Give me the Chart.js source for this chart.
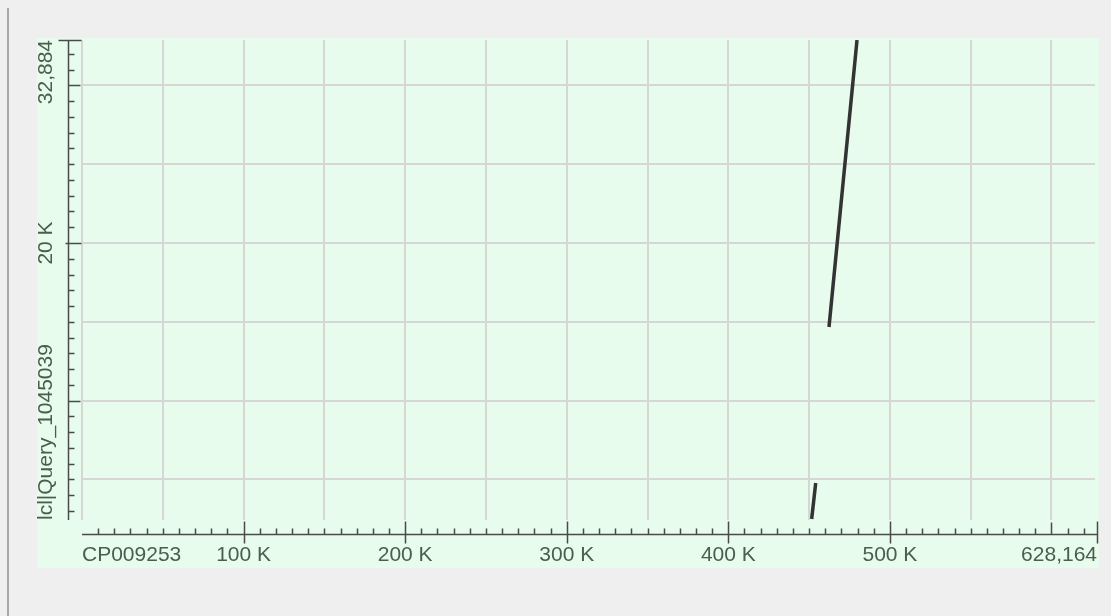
<!DOCTYPE html>
<html>
<head>
<meta charset="utf-8">
<script src="https://cdn.jsdelivr.net/npm/chart.js@4"></script>
<style>
    html, body { margin: 0; padding: 0; background: #efefef; }
    #wrap { width: 1111px; height: 616px; position: relative; }
</style>
</head>
<body>
<div id="wrap"><canvas id="dot-plot"></canvas></div>
<script>
// subject (x) axis: CP009253, 1..628,164
const subjectLength = 628164;
const xLabelValues = [0, 100000, 200000, 300000, 400000, 500000, 628164];
const xLabels = ['CP009253', '100 K', '200 K', '300 K', '400 K', '500 K', '628,164'];

// query (y) axis: visible part of lcl|Query_1045039
const queryMin = 2420;
const queryLength = 32884;
const yLabelValues = [2420, 20000, 32884];
const yLabels = ['lcl|Query_1045039', '20 K', '32,884'];

// alignment segments (subject start/end, query start/end)
const hitSubjectStart = [451580, 462300];
const hitSubjectEnd = [454080, 479640];
const hitQueryStart = [2480, 14670];
const hitQueryEnd = [4770, 32884];

const textColor = '#4b5d4c';
const axisColor = '#4a4a4a';
const gridColor = '#d6d6d6';
const labelFont = '21px "Liberation Sans", Arial, sans-serif';

const plotDecor = {
    id: 'plotDecor',
    beforeDraw(chart) {
        const ctx = chart.ctx;
        ctx.save();
        ctx.fillStyle = '#efefef';
        ctx.fillRect(0, 0, chart.width, chart.height);
        // left frame line
        ctx.strokeStyle = '#a8a8a8';
        ctx.lineWidth = 2;
        ctx.beginPath();
        ctx.moveTo(8, 8);
        ctx.lineTo(8, chart.height);
        ctx.stroke();
        // green panel
        ctx.fillStyle = '#e8fcee';
        ctx.fillRect(37, 38, 1062, 530);
        ctx.restore();
    },
    beforeDatasetsDraw(chart) {
        const ctx = chart.ctx;
        const x = chart.scales.x, y = chart.scales.y;
        const area = chart.chartArea;
        ctx.save();
        ctx.strokeStyle = gridColor;
        ctx.lineWidth = 2;
        for (let v = 0; v <= 600000; v += 50000) {
            const px = Math.round(x.getPixelForValue(v));
            ctx.beginPath();
            ctx.moveTo(px, area.top);
            ctx.lineTo(px, area.bottom);
            ctx.stroke();
        }
        for (let v = 5000; v <= 30000; v += 5000) {
            const py = Math.round(y.getPixelForValue(v));
            ctx.beginPath();
            ctx.moveTo(area.left, py);
            ctx.lineTo(area.right - 2, py);
            ctx.stroke();
        }
        ctx.restore();
    },
    afterDatasetsDraw(chart) {
        const ctx = chart.ctx;
        const x = chart.scales.x, y = chart.scales.y;
        const area = chart.chartArea;
        const axisY = 534.5;
        const axisX = 68.5;
        ctx.save();
        ctx.strokeStyle = axisColor;
        ctx.lineWidth = 1.5;

        // x axis
        ctx.beginPath();
        ctx.moveTo(area.left, axisY);
        ctx.lineTo(area.right, axisY);
        for (let v = 10000; v < subjectLength; v += 10000) {
            const px = Math.round(x.getPixelForValue(v)) + 0.5;
            const top = v % 100000 === 0 ? axisY - 12 : axisY - 6;
            ctx.moveTo(px, top);
            ctx.lineTo(px, axisY);
        }
        xLabelValues.forEach((v, i) => {
            if (i === 0) return;
            const px = Math.round(x.getPixelForValue(v)) + 0.5;
            ctx.moveTo(px, axisY - 13);
            ctx.lineTo(px, axisY + 9);
        });
        ctx.stroke();

        // y axis
        ctx.beginPath();
        ctx.moveTo(axisX, area.top);
        ctx.lineTo(axisX, area.bottom);
        for (let v = 3000; v < queryLength; v += 1000) {
            const py = Math.round(y.getPixelForValue(v)) + 0.5;
            const len = v % 10000 === 0 ? 12 : 6;
            ctx.moveTo(axisX, py);
            ctx.lineTo(axisX + len, py);
        }
        yLabelValues.forEach((v, i) => {
            if (i === 0) return;
            const py = Math.round(y.getPixelForValue(v)) + 0.5;
            const left = i === yLabelValues.length - 1 ? 10 : 3;
            ctx.moveTo(axisX - left, py);
            ctx.lineTo(axisX + 13, py);
        });
        ctx.stroke();

        // labels
        ctx.fillStyle = textColor;
        ctx.font = labelFont;
        ctx.textBaseline = 'middle';
        xLabelValues.forEach((v, i) => {
            const px = x.getPixelForValue(v);
            ctx.textAlign = i === 0 ? 'left' : (i === xLabelValues.length - 1 ? 'right' : 'center');
            ctx.fillText(xLabels[i], px, 555);
        });
        yLabelValues.forEach((v, i) => {
            const py = y.getPixelForValue(v);
            ctx.save();
            ctx.translate(46, py);
            ctx.rotate(-Math.PI / 2);
            ctx.textAlign = i === 0 ? 'left' : (i === yLabelValues.length - 1 ? 'right' : 'center');
            ctx.fillText(yLabels[i], 0, 0);
            ctx.restore();
        });
        ctx.restore();
    }
};

const segments = hitSubjectStart.map((s, i) => ({
    data: [
        { x: s, y: hitQueryStart[i] },
        { x: hitSubjectEnd[i], y: hitQueryEnd[i] }
    ],
    showLine: true,
    borderColor: '#333333',
    borderWidth: 3.5,
    pointRadius: 0,
    borderCapStyle: 'butt'
}));

new Chart(document.getElementById('dot-plot').getContext('2d'), {
    type: 'scatter',
    data: { datasets: segments },
    options: {
        responsive: true,
        maintainAspectRatio: false,
        animation: false,
        layout: {
            padding: { left: 82, right: 14, top: 40, bottom: 96 }
        },
        scales: {
            x: { type: 'linear', min: 0, max: subjectLength, display: false },
            y: { type: 'linear', min: queryMin, max: queryLength, display: false }
        },
        plugins: {
            legend: { display: false },
            tooltip: { enabled: false }
        }
    },
    plugins: [plotDecor]
});
</script>
</body>
</html>
